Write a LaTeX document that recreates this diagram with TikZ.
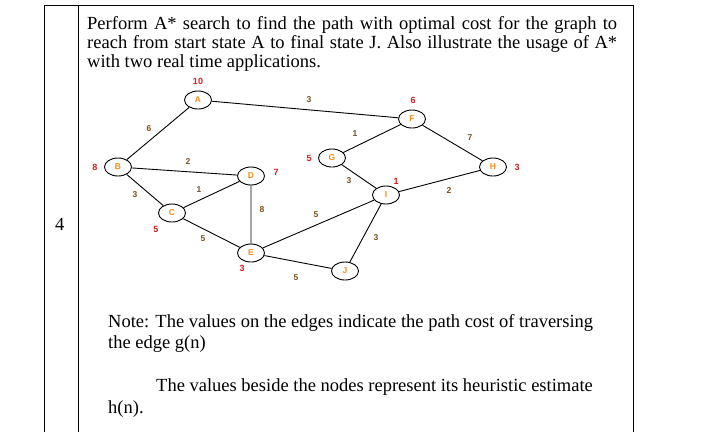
\documentclass[tikz,border=0pt]{standalone}
\usepackage{fontspec}
\usetikzlibrary{shapes.geometric}
\setmainfont{Liberation Serif}
\newfontfamily\gsans{Liberation Sans}
\begin{document}
\begin{tikzpicture}[x=1pt,y=-1pt,
  nd/.style={draw,ellipse,line width=0.9pt,minimum width=27pt,minimum height=18pt,inner sep=0pt,font=\gsans\bfseries\fontsize{8.5}{9}\selectfont,text={rgb,255:red,245;green,140;blue,20}},
  ed/.style={line width=0.9pt},
  w/.style={font=\gsans\bfseries\fontsize{8.5}{9}\selectfont,text={rgb,255:red,120;green,80;blue,30}},
  hh/.style={font=\gsans\bfseries\fontsize{9}{10}\selectfont,text={rgb,255:red,210;green,30;blue,30}},
  tl/.style={anchor=base west,inner sep=0pt,font=\fontsize{18.5}{19}\selectfont}]
\useasboundingbox (0,0) rectangle (717,432);
\draw[line width=0.8pt] (44,5) -- (633,5) (44,5) -- (44,432) (78,5) -- (78,432) (633,5) -- (633,432);
\node[tl] (t1) at (87,29) {\makebox[530pt][s]{Perform A* search to find the path with optimal cost for the graph to}};
\node[tl] (t2) at (87,48) {\makebox[530pt][s]{reach from start state A to final state J. Also illustrate the usage of A*}};
\node[tl] (t3) at (87,67) {with two real time applications.};
\node[tl] (n4) at (55,230) {4};
\node[tl] (t4) at (108,327) {Note: The values on the edges indicate the path cost of traversing};
\node[tl] (t5) at (108,348) {the edge g(n)};
\node[tl] (t6) at (156,391) {The values beside the nodes represent its heuristic estimate};
\node[tl] (t7) at (108,413) {h(n).};
\node[nd] (A) at (198,100) {A};
\node[nd] (B) at (118,167) {B};
\node[nd] (D) at (251,176) {D};
\node[nd] (C) at (172,213) {C};
\node[nd] (E) at (251,253) {E};
\node[nd] (J) at (345,271) {J};
\node[nd] (G) at (332,158) {G};
\node[nd] (F) at (412,119) {F};
\node[nd] (I) at (386,195) {I};
\node[nd] (H) at (493,167) {H};
\draw[ed] (A)--(F) (A)--(B) (B)--(D) (B)--(C) (C)--(D) (D)--(E) (C)--(E) (E)--(J) (E)--(I) (I)--(J) (G)--(I) (G)--(F) (F)--(H) (I)--(H);
\node[w] (wAF) at (309,100) {3};
\node[w] (wAB) at (149,129) {6};
\node[w] (wBD) at (188,162) {2};
\node[w] (wBC) at (135,195) {3};
\node[w] (wCD) at (199,190) {1};
\node[w] (wDE) at (262,210) {8};
\node[w] (wCE) at (203,239) {5};
\node[w] (wEJ) at (296,278) {5};
\node[w] (wEI) at (316,215) {5};
\node[w] (wIJ) at (376,238) {3};
\node[w] (wGI) at (349,181) {3};
\node[w] (wGF) at (355,134) {1};
\node[w] (wFH) at (470,138) {7};
\node[w] (wIH) at (449,191) {2};
\node[hh] (hA) at (198,81) {10};
\node[hh] (hB) at (95,167) {8};
\node[hh] (hD) at (276,172) {7};
\node[hh] (hC) at (156,229) {5};
\node[hh] (hE) at (242,268) {3};
\node[hh] (hG) at (309,158) {5};
\node[hh] (hF) at (413,100) {6};
\node[hh] (hI) at (396,181) {1};
\node[hh] (hH) at (517,167) {3};
\end{tikzpicture}
\end{document}
